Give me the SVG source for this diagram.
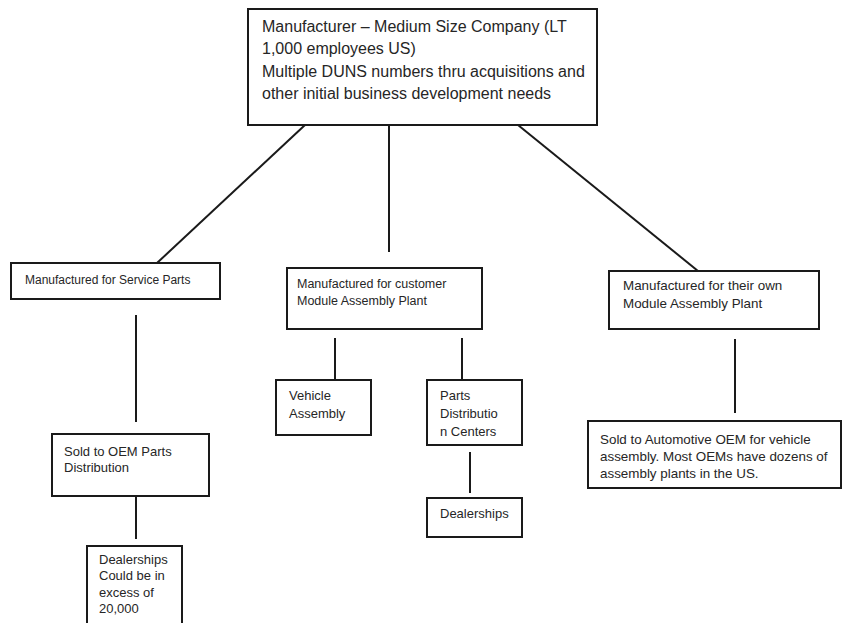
<svg xmlns="http://www.w3.org/2000/svg" width="843" height="623" viewBox="0 0 843 623">
<style>
.box{fill:#fff;stroke:#1a1a1a;stroke-width:2}
.ln{stroke:#1a1a1a;stroke-width:2;fill:none}
text{font-family:"Liberation Sans",Arial,sans-serif;fill:#262626}
.t16{font-size:16px}
.t12{font-size:12px}
.t125{font-size:12.5px}
.t13{font-size:13px}
.t135{font-size:13.4px}
</style>
<rect x="0" y="0" width="843" height="623" fill="#fff"/>
<g id="connectors">
<line class="ln" x1="305" y1="125" x2="157" y2="263"/>
<line class="ln" x1="389" y1="125" x2="389" y2="252"/>
<line class="ln" x1="518" y1="125" x2="698" y2="271"/>
<line class="ln" x1="136" y1="315" x2="136" y2="422"/>
<line class="ln" x1="136" y1="496" x2="136" y2="539"/>
<line class="ln" x1="335" y1="338" x2="335" y2="380"/>
<line class="ln" x1="462" y1="338" x2="462" y2="380"/>
<line class="ln" x1="470" y1="452" x2="470" y2="493"/>
<line class="ln" x1="735" y1="339" x2="735" y2="413"/>
</g>
<g id="top">
<rect class="box" x="248" y="9" width="349" height="116"/>
<text class="t16" x="262" y="32">Manufacturer – Medium Size Company (LT</text>
<text class="t16" x="262" y="54">1,000 employees US)</text>
<text class="t16" x="262" y="77">Multiple DUNS numbers thru acquisitions and</text>
<text class="t16" x="262" y="99">other initial business development needs</text>
</g>
<g id="service">
<rect class="box" x="11" y="263" width="209" height="36"/>
<text class="t12" x="25" y="284">Manufactured for Service Parts</text>
</g>
<g id="sold-oem-parts">
<rect class="box" x="52" y="434" width="157" height="62"/>
<text class="t13" x="64" y="456">Sold to OEM Parts</text>
<text class="t13" x="64" y="472">Distribution</text>
</g>
<g id="dealerships-left">
<rect class="box" x="87" y="546" width="95" height="90"/>
<text class="t13" x="99" y="564">Dealerships</text>
<text class="t13" x="99" y="580">Could be in</text>
<text class="t13" x="99" y="597">excess of</text>
<text class="t13" x="99" y="613">20,000</text>
</g>
<g id="customer">
<rect class="box" x="287" y="268" width="195" height="61"/>
<text class="t125" x="297" y="288">Manufactured for customer</text>
<text class="t125" x="297" y="305">Module Assembly Plant</text>
</g>
<g id="vehicle">
<rect class="box" x="276" y="380" width="95" height="55"/>
<text class="t13" x="289" y="400">Vehicle</text>
<text class="t13" x="289" y="418">Assembly</text>
</g>
<g id="parts-dist">
<rect class="box" x="427" y="380" width="95" height="65"/>
<text class="t13" x="440" y="400">Parts</text>
<text class="t13" x="440" y="418">Distributio</text>
<text class="t13" x="440" y="436">n Centers</text>
</g>
<g id="dealerships-mid">
<rect class="box" x="427" y="498" width="95" height="39"/>
<text class="t13" x="440" y="518">Dealerships</text>
</g>
<g id="own">
<rect class="box" x="609" y="271" width="210" height="58"/>
<text class="t135" x="623" y="290">Manufactured for their own</text>
<text class="t135" x="623" y="308">Module Assembly Plant</text>
</g>
<g id="sold-auto-oem">
<rect class="box" x="588" y="421" width="253" height="67"/>
<text class="t135" x="600" y="444">Sold to Automotive OEM for vehicle</text>
<text class="t135" x="600" y="461">assembly. Most OEMs have dozens of</text>
<text class="t135" x="600" y="478">assembly plants in the US.</text>
</g>
</svg>
